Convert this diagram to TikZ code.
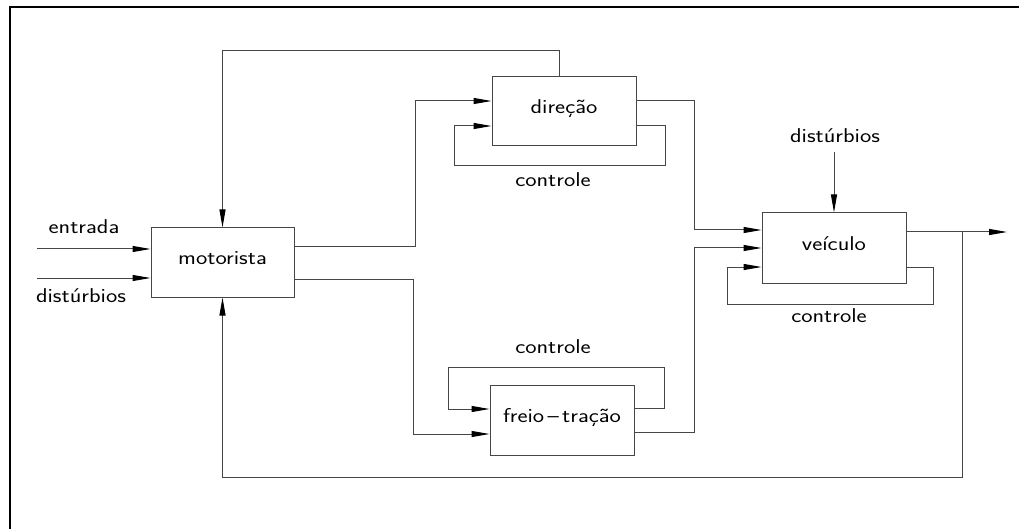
\documentclass[tikz,border=0pt]{standalone}
\usepackage{fontspec}
\newfontfamily\cadfont[FakeStretch=1.2]{Latin Modern Sans}
\usetikzlibrary{arrows.meta}
\definecolor{wirecol}{RGB}{70,70,70}
\begin{document}
\begin{tikzpicture}[x=1pt,y=-1pt,
  wire/.style={draw=wirecol,line width=1pt},
  arr/.style={wire,-{Triangle[length=18pt,width=6pt,color=black]}},
  txt/.style={inner sep=0pt,font=\cadfont\fontsize{20}{22}\selectfont,text height=0.7em,text depth=0.2em},
  block/.style={txt,draw=wirecol,line width=1pt,minimum width=144pt,minimum height=70pt}]
\useasboundingbox (0,0) rectangle (1019,529);
% sheet border
\draw[line width=2.6pt] (10,535) -- (10,7) -- (1025,7);

% blocks
\node[block,minimum width=143pt,minimum height=69pt] (mot) at (222.5,262.5) {motorista};
\node[block,minimum height=69pt] (dir) at (564,111.5) {direção};
\node[block] (frt) at (562,420) {freio\,–\,tração};
\node[block] (vei) at (834,248) {veículo};

% labels
\node[txt] (lentr) at (84,231) {entrada};
\node[txt] (ldist) at (81,300) {distúrbios};
\node[txt] (lcd) at (553,184) {controle};
\node[txt] (lcf) at (553,351) {controle};
\node[txt] (lcv) at (829,320) {controle};
\node[txt] (ldv) at (835,140) {distúrbios};

% bend points
\coordinate (in1) at (37,249);
\coordinate (in2) at (37,278);
\coordinate (t1) at (559,51);
\coordinate (m1) at (415,247);
\coordinate (m2) at (415,101);
\coordinate (m3) at (413,279);
\coordinate (m4) at (413,434);
\coordinate (dc1) at (665,126);
\coordinate (dc2) at (454,166);
\coordinate (fc1) at (664,408);
\coordinate (fc2) at (448,367);
\coordinate (vc1) at (933,267);
\coordinate (vc2) at (727,304);
\coordinate (do1) at (694,101);
\coordinate (do2) at (694,230);
\coordinate (fo1) at (694,432);
\coordinate (fo2) at (694,248);
\coordinate (dv) at (834,152);
\coordinate (out) at (1007,232);
\coordinate (fb1) at (962,232);
\coordinate (fb2) at (962,477);

% inputs of the driver
\draw[arr] (in1) -- (in1 -| mot.west);
\draw[arr] (in2) -- (in2 -| mot.west);

% steering loop back to the driver
\draw[arr] (dir.north -| t1) -- (t1) -| (mot.north);

% driver to steering and to brake/traction
\draw[arr] (mot.east |- m1) -- (m1) -- (m2) -- (dir.west |- m2);
\draw[arr] (mot.east |- m3) -- (m3) -- (m4) -- (frt.west |- m4);

% local control loops
\draw[arr] (dir.east |- dc1) -- (dc1) |- (dc2) |- (dir.west |- dc1);
\draw[arr] (frt.east |- fc1) -- (fc1) |- (fc2) |- (frt.west |- 0,409);
\draw[arr] (vei.east |- vc1) -- (vc1) |- (vc2) |- (vei.west |- vc1);

% actuators to the vehicle
\draw[arr] (dir.east |- do1) -- (do1) -- (do2) -- (vei.west |- do2);
\draw[arr] (frt.east |- fo1) -- (fo1) -- (fo2) -- (vei.west |- fo2);

% vehicle disturbances and output
\draw[arr] (dv) -- (vei.north);
\draw[arr] (vei.east |- out) -- (out);

% vehicle feedback to the driver
\draw[arr] (fb1) -- (fb2) -| (mot.south);
\end{tikzpicture}
\end{document}
